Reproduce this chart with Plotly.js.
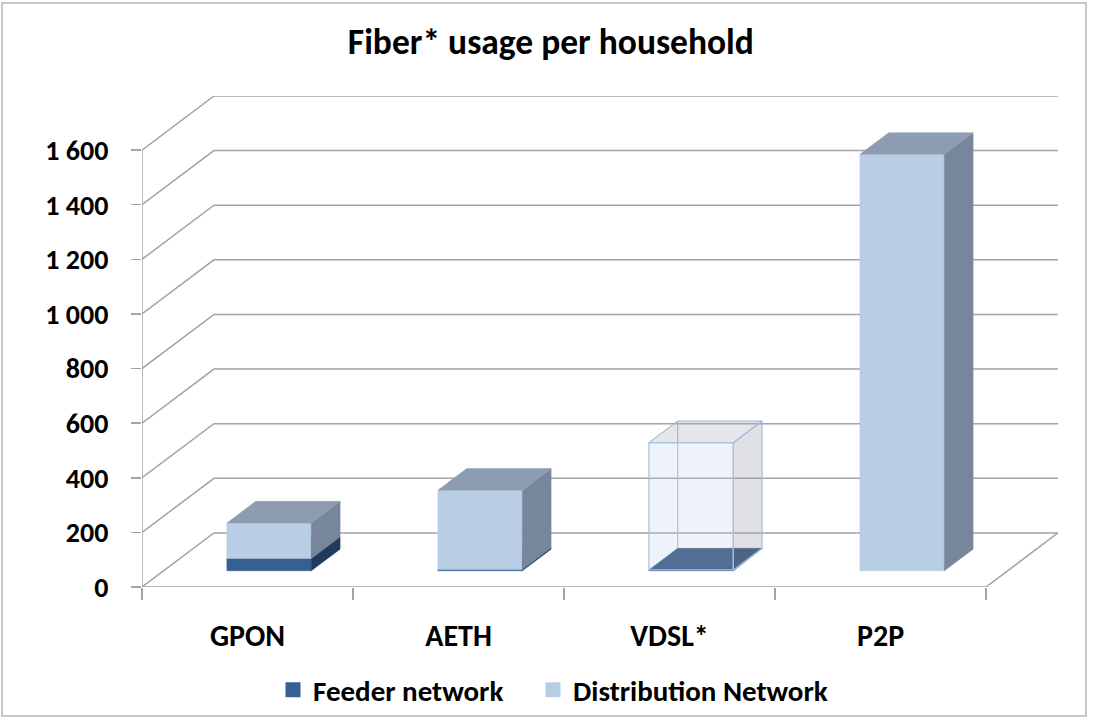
<!DOCTYPE html>
<html><head><meta charset="utf-8">
<script src="https://cdn.plot.ly/plotly-3.0.1.min.js"></script>
<style>html,body{margin:0;padding:0;background:#fff}#chart{width:1093px;height:720px}</style>
</head><body><div id="chart"></div>
<script>
// ---- data ----
const categories = ['GPON', 'AETH', 'VDSL*', 'P2P'];
const feeder = [45, 5, 3, 0];
const distribution = [130, 290, 466, 1525];
const yTickVals = [0, 200, 400, 600, 800, 1000, 1200, 1400, 1600];
const yTickText = ['0', '200', '400', '600', '800', '1 000', '1 200', '1 400', '1 600'];
const seriesNames = ['Feeder network', 'Distribution Network'];
const titleText = 'Fiber* usage per household';

// ---- oblique 3D projection (axis units) ----
const DEPTH_X = 0.341, DEPTH_Y = 198;
const BAR_W = 0.4, D0 = 0.3, D1 = 0.7;
const X0 = -0.5, X1 = categories.length - 0.5;
const YMAX = yTickVals[yTickVals.length - 1];
const FONT = "Carlito, Calibri, 'Roboto Condensed', Lato, sans-serif";
const GRID = '#a3a3a3';

function P(x, v, d) { return [x + d * DEPTH_X, v + d * DEPTH_Y]; }

const traces = [];
function addLine(pts, color, width) {
  const xs = [], ys = [];
  pts.forEach(p => { if (p === null) { xs.push(null); ys.push(null); } else { xs.push(p[0]); ys.push(p[1]); } });
  traces.push({ type: 'scatter', mode: 'lines', x: xs, y: ys, line: { color: color, width: width },
    hoverinfo: 'skip', showlegend: false });
}
function addPoly(pts, fill, lineColor, lw) {
  traces.push({ type: 'scatter', mode: 'lines', x: pts.map(p => p[0]).concat([pts[0][0]]),
    y: pts.map(p => p[1]).concat([pts[0][1]]), fill: 'toself', fillcolor: fill,
    line: { color: lineColor, width: lw }, hoverinfo: 'skip', showlegend: false });
}

// walls / grid
const grid = [];
yTickVals.forEach(v => { grid.push(P(X0, v, 0), P(X0, v, 1), P(X1, v, 1), null); });
grid.push(P(X0, 0, 0), P(X1, 0, 0), P(X1, 0, 1), null);
grid.push(P(X0, 0, 0), P(X0, YMAX, 0));
addLine(grid, GRID, 1.5);

const styles = {
  feeder: { front: '#365f92', side: '#213a5b', top: '#2f4e78' },
  dist: { front: '#b9cde5', side: '#77869a', top: '#8d9cb0' },
  hollow: { front: 'rgba(190,205,230,0.26)', side: 'rgba(150,155,165,0.30)', top: 'rgba(160,170,185,0.28)', edge: '#a6bfde' }
};

function box(i, lo, hi, st, edge, lw) {
  const xl = i - BAR_W / 2, xr = i + BAR_W / 2;
  addPoly([P(xl, lo, D0), P(xr, lo, D0), P(xr, hi, D0), P(xl, hi, D0)], st.front, edge || st.front, lw || 0.5);
  addPoly([P(xr, lo, D0), P(xr, lo, D1), P(xr, hi, D1), P(xr, hi, D0)], st.side, edge || st.side, lw || 0.5);
  addPoly([P(xl, hi, D0), P(xr, hi, D0), P(xr, hi, D1), P(xl, hi, D1)], st.top, edge || st.top, lw || 0.5);
}

categories.forEach((c, i) => {
  const f = feeder[i], d = distribution[i], tot = f + d;
  const hollow = (c === 'VDSL*');
  const xl = i - BAR_W / 2;
  if (hollow) addLine([P(xl, f, D1), P(xl, tot, D1)], styles.hollow.edge, 1.2);
  if (f > 0) box(i, 0, f, styles.feeder);
  if (d > 0) {
    if (hollow) box(i, f, tot, styles.hollow, styles.hollow.edge, 1.2);
    else box(i, f, tot, styles.dist);
  }
});

// legend entries (one legend box each, for exact spacing)
traces.push({ type: 'scatter', mode: 'markers', x: [null], y: [null], name: seriesNames[0], legend: 'legend',
  marker: { symbol: 'square', size: 15, color: styles.feeder.front }, hoverinfo: 'skip' });
traces.push({ type: 'scatter', mode: 'markers', x: [null], y: [null], name: seriesNames[1], legend: 'legend2',
  marker: { symbol: 'square', size: 15, color: styles.dist.front }, hoverinfo: 'skip' });

const legendFont = { family: FONT, size: 29, weight: 700, color: '#000' };
const layout = {
  width: 1093, height: 720,
  margin: { l: 142, r: 35, t: 96, b: 133 },
  paper_bgcolor: '#fff', plot_bgcolor: 'rgba(0,0,0,0)',
  showlegend: true,
  title: { text: titleText, x: 0.504, xanchor: 'center', y: 1 - 42 / 720, yanchor: 'middle',
    font: { family: FONT, size: 35.5, weight: 700, color: '#000' } },
  xaxis: {
    range: [X0, X1 + DEPTH_X], showgrid: false, zeroline: false, showline: false,
    tickmode: 'array', tickvals: categories.map((c, i) => i), ticktext: categories,
    ticks: '', ticklabelstandoff: 28,
    tickfont: { family: FONT, size: 30, weight: 700, color: '#000' },
    minor: { tickmode: 'linear', tick0: X0, dtick: 1, ticks: 'outside', ticklen: 12, tickcolor: GRID, tickwidth: 1.5, showgrid: false },
    fixedrange: true
  },
  yaxis: {
    range: [0, YMAX + DEPTH_Y], showgrid: false, zeroline: false, showline: false,
    tickmode: 'array', tickvals: yTickVals, ticktext: yTickText,
    ticks: 'outside', ticklen: 10, tickcolor: GRID, tickwidth: 1.5, ticklabelstandoff: 17,
    tickfont: { family: FONT, size: 28, weight: 700, color: '#000' },
    fixedrange: true
  },
  legend: { orientation: 'h', x: 273 / 1093, xanchor: 'left', xref: 'container', y: 1 - 690 / 720, yref: 'container', yanchor: 'middle',
    font: legendFont, itemwidth: 30, bgcolor: 'rgba(0,0,0,0)' },
  legend2: { orientation: 'h', x: 533 / 1093, xanchor: 'left', xref: 'container', y: 1 - 690 / 720, yref: 'container', yanchor: 'middle',
    font: legendFont, itemwidth: 30, bgcolor: 'rgba(0,0,0,0)' },
  shapes: [{ type: 'rect', xref: 'paper', yref: 'paper', layer: 'above',
    x0: (2 - 142) / 916, x1: (1086 - 142) / 916, y0: (587 - 716) / 491, y1: (587 - 3) / 491,
    line: { color: '#b5b5b5', width: 1.5 }, fillcolor: 'rgba(0,0,0,0)' }]
};

Plotly.newPlot('chart', traces, layout, { displayModeBar: false, staticPlot: true });
</script></body></html>
